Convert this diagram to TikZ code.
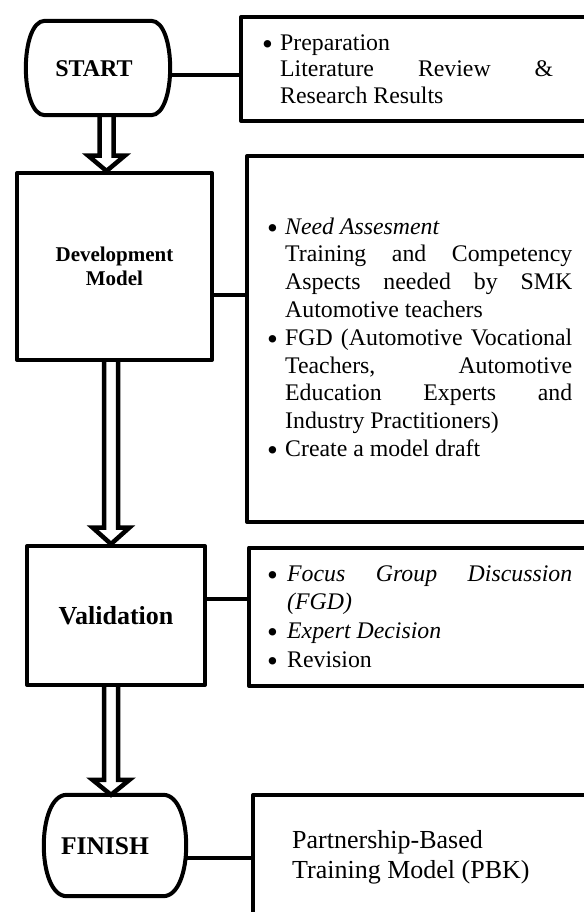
\documentclass[tikz,border=0pt]{standalone}
\usepackage{fontspec}
\usepackage{graphicx}
\setmainfont{Liberation Serif}
\usetikzlibrary{calc}

% bullet paragraph with hanging indent
\newcommand\listbullet{\raisebox{-4.2bp}{\scalebox{1.3}{\textbullet}}}
\newcommand\bulletitem[1][18bp]{\par\noindent\hangindent=#1\relax\hangafter=1\relax\makebox[#1][l]{\listbullet}\ignorespaces}
% justified block: width, baselineskip, content
\newcommand\listblock[3]{\vtop{\hsize=#1\relax\fontsize{23.8bp}{#2}\selectfont\parindent=0pt\parskip=0pt\tolerance=10000\relax #3\par}}
% terminal outline: straight top/bottom, bulging sides
\newcommand\terminalpath[3]{%
  \draw[outline] ([xshift=#2]#1.north west) -- ([xshift=-#2]#1.north east)
    .. controls ([xshift=#3]#1.north east) and ([xshift=#3]#1.south east) .. ([xshift=-#2]#1.south east)
    -- ([xshift=#2]#1.south west)
    .. controls ([xshift=-#3]#1.south west) and ([xshift=-#3]#1.north west) .. cycle;}
% hollow block arrow: from anchor, to anchor, axis coordinate, head length
\newcommand\blockarrow[4]{%
  \coordinate (ba-s) at (#1 -| #3);
  \coordinate (ba-t) at (#2 -| #3);
  \draw[hollow] ($(ba-s)+(-7,0)$) -- ($(ba-t)+(-7,-#4)$) -- ($(ba-t)+(-18.5,-#4)$) -- (ba-t)
    -- ($(ba-t)+(18.5,-#4)$) -- ($(ba-t)+(7,-#4)$) -- ($(ba-s)+(7,0)$);}

\begin{document}
\begin{tikzpicture}[x=1bp,y=-1bp,
  outline/.style={line width=4bp, line join=round},
  box/.style={draw, line width=4bp, line join=round, inner sep=0pt, anchor=north west},
  conn/.style={line width=3.5bp},
  hollow/.style={line width=4.5bp, line join=miter},
  shapebox/.style={inner sep=0pt},
  termlabel/.style={font=\fontsize{24bp}{28bp}\selectfont\bfseries, inner sep=0pt},
  listtext/.style={anchor=base west, inner sep=0pt},
]
\useasboundingbox (0,0) rectangle (584,912);
\fill[white] (0,0) rectangle (584,912);
\clip (0,0) rectangle (584,912);

% START and preparation
\node[shapebox, minimum width=144bp, minimum height=94bp] (st) at (98,68) {};
\terminalpath{st}{19bp}{6.3bp}
\node[termlabel] (stlabel) at ($(st.center)+(-4,1)$) {START};
\node[box, minimum width=400bp, minimum height=104bp] (prep) at (239,15) {};
\coordinate (c1) at ([yshift=-7bp]st.east);
\draw[conn] (c1) -- (c1 -| prep.west);
\node[listtext] (preptext) at (262,50) {\listblock{291bp}{26.7bp}{%
  \bulletitem Preparation\newline Literature Review \&\linebreak Research Results}};

% development model
\node[box, minimum width=195bp, minimum height=187bp] (dev) at (15,171) {};
\node[font=\fontsize{21bp}{24bp}\selectfont\bfseries, align=center, inner sep=0pt] (devlabel) at (dev.center) {Development\\Model};
\node[box, minimum width=400bp, minimum height=366bp] (need) at (245,154) {};
\coordinate (c2) at ([yshift=-28.5bp]dev.east);
\draw[conn] (c2) -- (c2 -| need.west);
\node[listtext] (needtext) at (267,234) {\listblock{305bp}{27.8bp}{%
  \bulletitem{\itshape Need Assesment}\newline
  Training and Competency\linebreak Aspects needed by SMK\linebreak Automotive teachers\par
  \bulletitem FGD (Automotive Vocational\linebreak Teachers, Automotive\linebreak Education Experts and\linebreak Industry Practitioners)\par
  \bulletitem Create a model draft}};

% validation
\node[box, minimum width=178bp, minimum height=139bp] (val) at (25,544) {};
\node[font=\fontsize{26bp}{30bp}\selectfont\bfseries, inner sep=0pt] (vallabel) at (val.center) {Validation};
\node[box, minimum width=400bp, minimum height=138.5bp] (valitems) at (247,545.5) {};
\coordinate (c3) at ([yshift=16.5bp]val.east);
\draw[conn] (c3) -- (c3 -| valitems.west);
\node[listtext] (valtext) at (267,581) {\listblock{305bp}{28.7bp}{%
  \bulletitem[20bp]{\itshape Focus Group Discussion\linebreak (FGD)}\par
  \bulletitem[20bp]{\itshape Expert Decision}\par
  \bulletitem[20bp]Revision}};

% FINISH and result
\node[shapebox, minimum width=142bp, minimum height=101bp] (fin) at (115,845.5) {};
\terminalpath{fin}{23bp}{7.7bp}
\node[termlabel, font=\fontsize{25.5bp}{30bp}\selectfont\bfseries] (finlabel) at ($(fin.center)+(-10,1)$) {FINISH};
\node[box, minimum width=400bp, minimum height=200bp] (result) at (251,793) {};
\coordinate (c4) at ([yshift=-12.5bp]fin.east);
\draw[conn] (c4) -- (c4 -| result.west);
\node[listtext] (resulttext) at (292,848) {\fontsize{26bp}{30bp}\selectfont\vtop{\hbox{Partnership-Based}\hbox{Training Model (PBK)}}};

% flow arrows
\coordinate (ax1) at (106.5,0);
\coordinate (ax2) at (111,0);
\blockarrow{st.south}{dev.north}{ax1}{15.5}
\blockarrow{dev.south}{val.north}{ax2}{16.5}
\blockarrow{val.south}{fin.north}{ax2}{15}
\end{tikzpicture}
\end{document}
